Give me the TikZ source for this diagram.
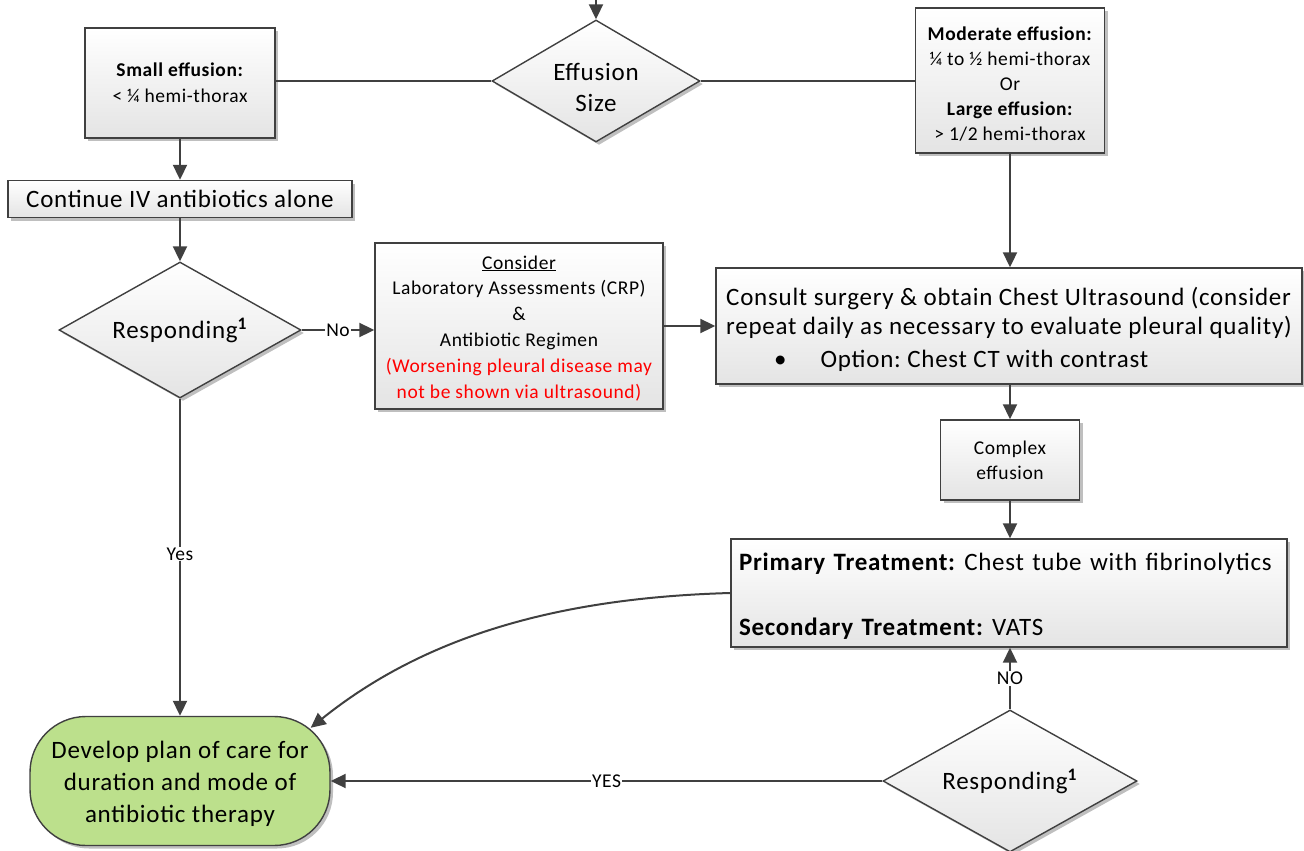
\documentclass[tikz,border=0pt]{standalone}
\usepackage{fontspec}
\setmainfont{Carlito}[LetterSpace=3]
\usetikzlibrary{shapes.geometric,arrows.meta,shadows,calc}
\definecolor{linec}{HTML}{404040}
\definecolor{botg}{HTML}{E4E4E4}
\definecolor{devg}{HTML}{BCE08C}
\begin{document}
\frenchspacing
\begin{tikzpicture}[x=1pt,y=-1pt,
  shad/.style={drop shadow={shadow xshift=3pt,shadow yshift=-3pt,opacity=0.25,fill=black}},
  box/.style={rectangle,draw=linec,line width=1.4pt,top color=white,bottom color=botg,shad,inner sep=2pt,align=center},
  dia/.style={diamond,aspect=1.78,draw=linec,line width=1.4pt,top color=white,bottom color=botg,shad,inner sep=0pt,align=center},
  big/.style={font=\fontsize{25}{29}\selectfont},
  sml/.style={font=\fontsize{19.5}{25.3}\selectfont},
  lbl/.style={fill=white,inner sep=1pt,font=\fontsize{19.5}{22}\selectfont},
  arr/.style={draw=linec,line width=2pt,-{Triangle[length=15pt,width=14pt]}},
  ln/.style={draw=linec,line width=2pt}]
\useasboundingbox (0,0) rectangle (1304,851);

\node[box,font=\fontsize{19.5}{26}\selectfont,minimum width=190,minimum height=110] (small) at (180,83)
  {\textbf{Small effusion:}\\< ¼ hemi-thorax};
\node[dia,aspect=1.7,font=\fontsize{25}{31}\selectfont,minimum width=208,minimum height=122] (size) at (596,81)
  {\rule{0pt}{30pt}Effusion\\Size};
\node[box,font=\fontsize{19.5}{25}\selectfont,minimum width=189,minimum height=145] (mod) at (1010,80.5)
  {\rule{0pt}{20pt}\textbf{Moderate effusion:}\\¼ to ½ hemi-thorax\\Or\\\textbf{Large effusion:}\\> 1/2 hemi-thorax};
\node[box,big,minimum width=344,minimum height=37] (cont) at (180,199)
  {Continue IV antibiotics alone};
\node[dia,big,minimum width=242,minimum height=136] (resp1) at (180,330)
  {Responding\textsuperscript{\textbf{1}}};
\node[box,font=\fontsize{19.5}{25.8}\selectfont,minimum width=288,minimum height=166] (cons) at (519,326)
  {\rule{0pt}{18pt}\underline{Consider}\\Laboratory Assessments (CRP)\\\&\\Antibiotic Regimen\\
   \textcolor{red}{(Worsening pleural disease may}\\\textcolor{red}{not be shown via ultrasound)}};
\node[box,big,align=left,minimum width=586,minimum height=116] (consult) at (1009,326)
  {\rule{0pt}{26pt}Consult surgery \& obtain Chest Ultrasound (consider\\
   repeat daily as necessary to evaluate pleural quality)\\[4pt]
   \hspace*{48pt}•\hspace*{34pt}Option: Chest CT with contrast};
\node[box,sml,minimum width=139,minimum height=80] (cplx) at (1010,460)
  {Complex\\effusion};
\node[box,big,align=left,text width=540,minimum width=556,minimum height=108] (prim) at (1009,593)
  {\rule{0pt}{24pt}\textbf{Primary Treatment:} Chest tube with fibrinolytics\\[36pt]
   \textbf{Secondary Treatment:} VATS};
\node[dia,big,minimum width=254,minimum height=142] (resp2) at (1010,781)
  {Responding\textsuperscript{\textbf{1}}};
\node[rectangle,rounded corners=56pt,draw=linec,line width=1.4pt,fill=devg,shad,
  font=\fontsize{25}{32}\selectfont,align=center,minimum width=300,minimum height=129] (dev) at (180,781)
  {\rule{0pt}{24pt}Develop plan of care for\\duration and mode of\\antibiotic therapy};

\coordinate (topin) at (596,-5);
\coordinate (devin) at ($(dev.north east)+(-20,12)$);

\draw[arr] (topin) -- (size.north);
\draw[ln] (small.east |- size.west) -- (size.west);
\draw[ln] (size.east) -- (mod.west |- size.east);
\draw[arr] (small.south) -- (cont.north);
\draw[arr] (cont.south) -- (resp1.north);
\draw[arr] (resp1.east) -- node[lbl]{No} (cons.west |- resp1.east);
\draw[arr] (cons.east) -- (consult.west);
\draw[arr] (mod.south) -- (consult.north -| mod.south);
\draw[arr] (consult.south -| cplx.north) -- (cplx.north);
\draw[arr] (cplx.south) -- (prim.north -| cplx.south);
\draw[arr] (resp1.south) -- node[lbl,pos=0.49]{Yes} (dev.north -| resp1.south);
\draw[arr] (resp2.north) -- node[lbl,pos=0.5]{NO} (prim.south -| resp2.north);
\draw[arr] (resp2.west) -- node[lbl]{YES} (dev.east);
\draw[arr] (prim.west) .. controls (550,598) and (420,640) .. (devin);
\end{tikzpicture}
\end{document}
